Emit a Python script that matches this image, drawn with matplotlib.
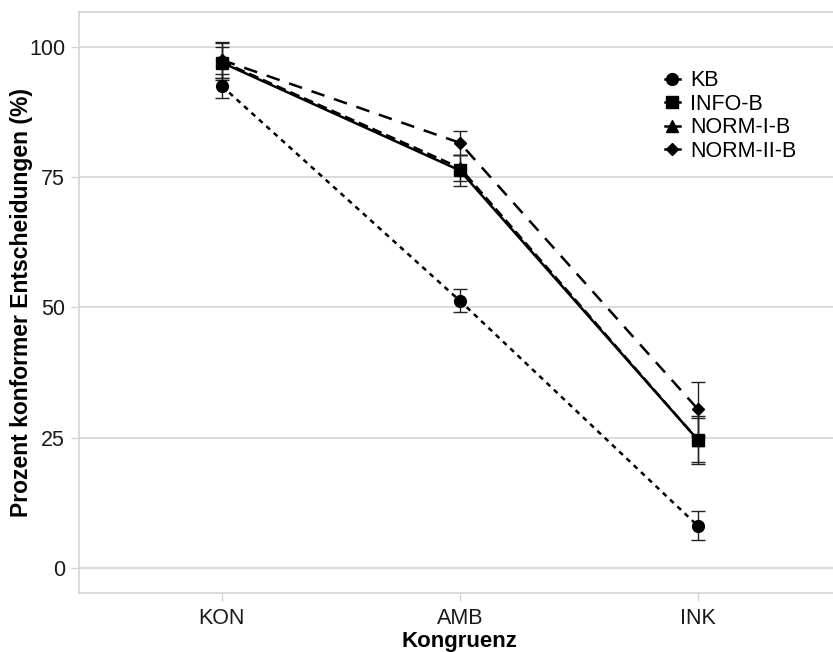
import matplotlib.pyplot as plt
from matplotlib.lines import Line2D

plt.rcParams['font.family'] = ['Liberation Sans', 'DejaVu Sans']

# categories and series
categories = ['KON', 'AMB', 'INK']
series = ['KB', 'INFO-B', 'NORM-I-B', 'NORM-II-B']
kb = [92.5, 51.3, 8.1]
kb_err = [2.3, 2.2, 2.8]
info_b = [97.0, 76.3, 24.6]
info_b_err = [2.9, 3.0, 4.2]
norm_i_b = [97.2, 76.8, 24.6]
norm_i_b_err = [3.5, 2.5, 4.6]
norm_ii_b = [97.5, 81.6, 30.5]
norm_ii_b_err = [3.4, 2.3, 5.2]

values = [kb, info_b, norm_i_b, norm_ii_b]
errors = [kb_err, info_b_err, norm_i_b_err, norm_ii_b_err]
markers = ['o', 's', '^', 'D']
msizes = [8.5, 8.5, 8.5, 6]
styles = [(0, (2, 2)), '-', (0, (4, 2)), (0, (5.5, 4))]

fig = plt.figure(figsize=(8.33, 6.52), dpi=100)
ax = fig.add_axes([0.0948, 0.0905, 0.9143, 0.8911])

x = [1, 2, 3]
for vals, errs, m, ms, ls, name in zip(values, errors, markers, msizes, styles, series):
    ax.errorbar(x, vals, yerr=errs, fmt='none', ecolor='#222222',
                elinewidth=1.0, capsize=5, capthick=1.0, zorder=3)
    ax.plot(x, vals, color='black', linestyle=ls, linewidth=1.8,
            marker=m, markersize=ms, zorder=4, label=name)

ax.set_xlim(0.4, 3.6)
ax.set_ylim(-4.8, 106.7)
ax.set_xticks(x)
ax.set_xticklabels(categories)
ax.set_yticks([0, 25, 50, 75, 100])
ax.yaxis.grid(True, color='#d4d4d4', linewidth=1.2)
ax.set_axisbelow(True)
for s in ax.spines.values():
    s.set_color('#d4d4d4')
    s.set_linewidth(1.2)
ax.tick_params(colors='#d4d4d4', labelcolor='#1a1a1a', labelsize=15.5, length=6, width=1)
ax.tick_params(axis='x', pad=5)
ax.tick_params(axis='y', pad=4)

ax.set_xlabel('Kongruenz', fontsize=16, fontweight='bold', labelpad=1)
ax.set_ylabel('Prozent konformer Entscheidungen (%)', fontsize=16.5,
              fontweight='bold', labelpad=-3)

handles = [Line2D([0], [0], color='black', linewidth=1.8, marker=m, markersize=ms)
           for m, ms in zip(markers, msizes)]
ax.legend(handles, series, loc='upper left', bbox_to_anchor=(0.769, 0.90),
          frameon=False, fontsize=15.5, handlelength=0.7, handletextpad=0.5,
          labelspacing=0.12, borderaxespad=0, borderpad=0)

fig.savefig('out.png', dpi=100)
